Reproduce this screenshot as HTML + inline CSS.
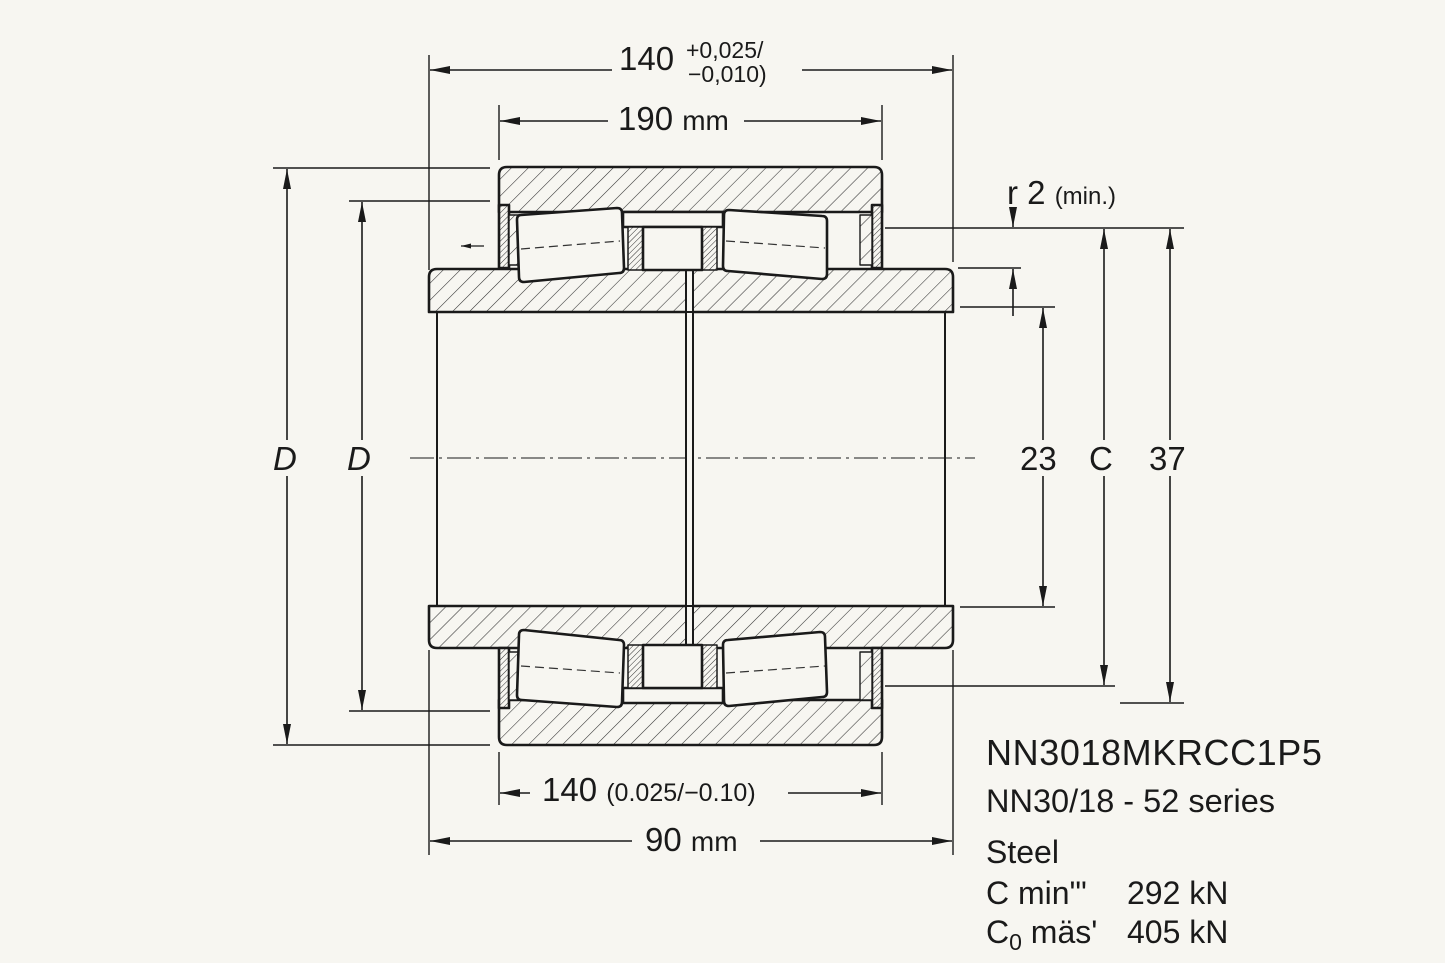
<!DOCTYPE html>
<html><head><meta charset="utf-8"><style>
html,body{margin:0;padding:0;background:#f7f6f1;}
svg{display:block;}
text{font-family:"Liberation Sans",sans-serif;fill:#1a1a1a;}
</style></head><body>
<svg width="1445" height="963" viewBox="0 0 1445 963" xmlns="http://www.w3.org/2000/svg">
<defs>
<pattern id="h" patternUnits="userSpaceOnUse" width="12" height="12" patternTransform="rotate(45)">
<rect width="12" height="12" fill="#f7f6f1"/><line x1="0" y1="0" x2="0" y2="12" stroke="#333" stroke-width="1.1"/></pattern>
<pattern id="h2" patternUnits="userSpaceOnUse" width="4" height="4" patternTransform="rotate(45)">
<rect width="4" height="4" fill="#f7f6f1"/><line x1="0" y1="0" x2="0" y2="4" stroke="#333" stroke-width="1"/></pattern>
<marker id="a" viewBox="0 0 20 10" refX="20" refY="5" markerWidth="20" markerHeight="10" markerUnits="userSpaceOnUse" orient="auto-start-reverse"><path d="M0,1 L20,5 L0,9 z" fill="#1a1a1a"/></marker>
<marker id="s" viewBox="0 0 10 6" refX="10" refY="3" markerWidth="10" markerHeight="6" markerUnits="userSpaceOnUse" orient="auto"><path d="M0,0.5 L10,3 L0,5.5 z" fill="#1a1a1a"/></marker>
</defs>
<g stroke="#1a1a1a" fill="none">
<g stroke-width="1.4">
<line x1="429" y1="55" x2="429" y2="270"/><line x1="953" y1="55" x2="953" y2="262"/>
<line x1="429" y1="650" x2="429" y2="855"/><line x1="953" y1="650" x2="953" y2="855"/>
<line x1="499" y1="105" x2="499" y2="160"/><line x1="882" y1="105" x2="882" y2="160"/>
<line x1="499" y1="752" x2="499" y2="805"/><line x1="882" y1="752" x2="882" y2="805"/>
<line x1="273" y1="168" x2="490" y2="168"/><line x1="349" y1="201" x2="490" y2="201"/>
<line x1="349" y1="711" x2="490" y2="711"/><line x1="273" y1="745" x2="490" y2="745"/>
<line x1="885" y1="228" x2="1184" y2="228"/><line x1="958" y1="268" x2="1021" y2="268"/>
<line x1="960" y1="307" x2="1055" y2="307"/><line x1="960" y1="607" x2="1055" y2="607"/>
<line x1="885" y1="686" x2="1115" y2="686"/><line x1="1120" y1="703" x2="1184" y2="703"/>
</g>
<g stroke-width="1.6" marker-start="url(#a)" marker-end="url(#a)">
<line x1="430" y1="70" x2="952" y2="70"/>
<line x1="500" y1="121" x2="881" y2="121"/>
<line x1="500" y1="793" x2="881" y2="793"/>
<line x1="430" y1="841" x2="952" y2="841"/>
<line x1="287" y1="169" x2="287" y2="744"/>
<line x1="362" y1="202" x2="362" y2="710"/>
<line x1="1043" y1="308" x2="1043" y2="606"/>
<line x1="1104" y1="229" x2="1104" y2="685"/>
<line x1="1170" y1="229" x2="1170" y2="702"/>
</g>
<g stroke-width="1.6">
<line x1="1013" y1="210" x2="1013" y2="227" marker-end="url(#a)"/>
<line x1="1013" y1="316" x2="1013" y2="269" marker-end="url(#a)"/>
</g>
<line x1="484" y1="246" x2="461" y2="246" stroke-width="1.3" marker-end="url(#s)"/>
</g>
<g fill="#f7f6f1" stroke="none">
<rect x="612" y="50" width="190" height="40"/><rect x="608" y="104" width="136" height="34"/>
<rect x="530" y="772" width="258" height="36"/><rect x="632" y="822" width="128" height="36"/>
<rect x="270" y="440" width="34" height="36"/><rect x="345" y="440" width="34" height="36"/>
<rect x="1018" y="440" width="50" height="36"/><rect x="1088" y="440" width="32" height="36"/><rect x="1146" y="440" width="50" height="36"/>
</g>
<line x1="410" y1="458" x2="975" y2="458" stroke="#1a1a1a" stroke-width="1" stroke-dasharray="24,5,3,5"/>
<g stroke="#1a1a1a" stroke-width="2.6" stroke-linejoin="round">
<path d="M499,175 Q499,167 507,167 L874,167 Q882,167 882,175 L882,212 L499,212 Z" fill="url(#h)"/>
<rect x="499" y="205" width="10" height="63" fill="url(#h2)"/>
<rect x="872" y="205" width="10" height="63" fill="url(#h2)"/>
<rect x="509" y="215" width="12" height="50" fill="url(#h)" stroke-width="1.4"/>
<rect x="860" y="215" width="12" height="50" fill="url(#h)" stroke-width="1.4"/>
<path d="M437,269 L945,269 Q953,269 953,277 L953,312 L429,312 L429,277 Q429,269 437,269 Z" fill="url(#h)"/>
<line x1="437" y1="312" x2="437" y2="606" stroke-width="2"/><line x1="945" y1="312" x2="945" y2="606" stroke-width="2"/>
<path d="M429,606 L953,606 L953,640 Q953,648 945,648 L437,648 Q429,648 429,640 Z" fill="url(#h)"/>
<path d="M499,700 L882,700 L882,737 Q882,745 874,745 L507,745 Q499,745 499,737 Z" fill="url(#h)"/>
<rect x="499" y="648" width="10" height="60" fill="url(#h2)"/>
<rect x="872" y="648" width="10" height="60" fill="url(#h2)"/>
<rect x="509" y="652" width="12" height="48" fill="url(#h)" stroke-width="1.4"/>
<rect x="860" y="652" width="12" height="48" fill="url(#h)" stroke-width="1.4"/>
<rect x="686" y="270" width="7" height="336" fill="#f7f6f1" stroke-width="2"/>
<rect x="686" y="270" width="7" height="42" fill="#f7f6f1" stroke-width="2"/>
<rect x="686" y="606" width="7" height="42" fill="#f7f6f1" stroke-width="2"/>
<rect x="623" y="212" width="100" height="15" fill="#f7f6f1"/>
<rect x="628" y="227" width="15" height="43" fill="url(#h2)" stroke-width="1.5"/>
<rect x="702" y="227" width="15" height="43" fill="url(#h2)" stroke-width="1.5"/>
<rect x="643" y="227" width="59" height="43" fill="#f7f6f1"/>
<path d="M521,215 L617,208 Q622,208 622,213 L624,268 Q624,273 619,273 L524,282 Q519,282 519,277 L517,220 Q517,215 521,215 Z" fill="#f7f6f1"/>
<path d="M729,210 L822,216 Q827,216 827,221 L827,274 Q827,279 822,279 L728,271 Q723,271 723,266 L724,215 Q724,210 729,210 Z" fill="#f7f6f1"/>
<rect x="623" y="688" width="100" height="15" fill="#f7f6f1"/>
<rect x="628" y="645" width="15" height="43" fill="url(#h2)" stroke-width="1.5"/>
<rect x="702" y="645" width="15" height="43" fill="url(#h2)" stroke-width="1.5"/>
<rect x="643" y="645" width="59" height="43" fill="#f7f6f1"/>
<path d="M524,630 L619,640 Q624,640 624,645 L622,702 Q622,707 617,707 L522,700 Q517,700 517,695 L519,635 Q519,630 524,630 Z" fill="#f7f6f1"/>
<path d="M728,640 L820,632 Q825,632 825,637 L827,692 Q827,697 822,697 L729,706 Q724,706 724,701 L723,645 Q723,640 728,640 Z" fill="#f7f6f1"/>
</g>
<g stroke="#333" stroke-width="1.2" stroke-dasharray="9,5">
<line x1="521" y1="249" x2="620" y2="241"/><line x1="726" y1="241" x2="825" y2="248"/>
<line x1="521" y1="666" x2="620" y2="673"/><line x1="726" y1="673" x2="825" y2="666"/>
</g>
<text x="619" y="70" font-size="33">140</text>
<text x="686" y="58" font-size="23">+0,025/</text>
<text x="688" y="82" font-size="23">−0,010)</text>
<text x="618" y="130" font-size="33">190 <tspan font-size="28">mm</tspan></text>
<text x="542" y="801" font-size="33">140 <tspan font-size="25">(0.025/−0.10)</tspan></text>
<text x="645" y="851" font-size="33">90 <tspan font-size="28">mm</tspan></text>
<text x="273" y="470" font-size="33" font-style="italic">D</text>
<text x="347" y="470" font-size="33" font-style="italic">D</text>
<text x="1020" y="470" font-size="33">23</text>
<text x="1089" y="470" font-size="33">C</text>
<text x="1149" y="470" font-size="33">37</text>
<text x="1007" y="204" font-size="33">r 2 <tspan font-size="24">(min.)</tspan></text>
<text x="986" y="765" font-size="36" letter-spacing="0.6">NN3018MKRCC1P5</text>
<text x="986" y="812" font-size="32.5">NN30/18 - 52 series</text>
<text x="986" y="863" font-size="32">Steel</text>
<text x="986" y="904" font-size="32">C min"'</text>
<text x="1127" y="904" font-size="32">292 kN</text>
<text x="986" y="943" font-size="32">C<tspan font-size="23" dy="7">0</tspan><tspan dy="-7"> mäs'</tspan></text>
<text x="1127" y="943" font-size="32">405 kN</text>
</svg>
</body></html>
